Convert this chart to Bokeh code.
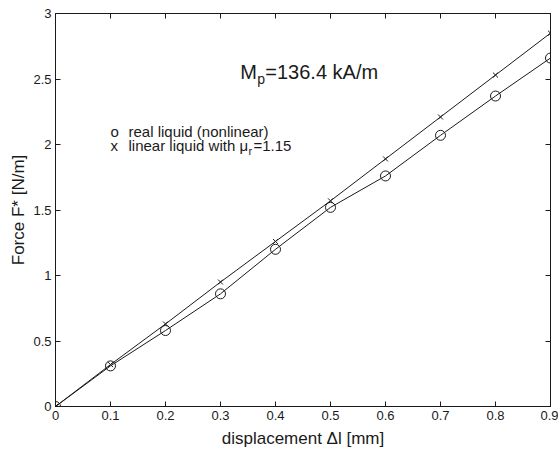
from bokeh.plotting import figure
from bokeh.models import LinearAxis, FixedTicker, Range1d, CustomJSTickFormatter
from bokeh.core.properties import value
from bokeh.embed import file_html
from bokeh.resources import INLINE

displacement = [0.0, 0.1, 0.2, 0.3, 0.4, 0.5, 0.6, 0.7, 0.8, 0.9]
force_real = [0.0, 0.31, 0.58, 0.86, 1.20, 1.52, 1.76, 2.07, 2.37, 2.66]
force_linear = [0.0, 0.32, 0.63, 0.95, 1.26, 1.57, 1.89, 2.21, 2.53, 2.85]
x_ticks = [0, 0.1, 0.2, 0.3, 0.4, 0.5, 0.6, 0.7, 0.8, 0.9]
y_ticks = [0, 0.5, 1, 1.5, 2, 2.5, 3]
legend_labels = ["real liquid (nonlinear)", "linear liquid with \u03bc"]
title_parts = ["M", "p", "=136.4 kA/m"]

FONT = "Liberation Sans"
INK = "#1a1a1a"

p = figure(width=558, height=451, output_backend="svg", toolbar_location=None,
           x_range=Range1d(0, 0.9), y_range=Range1d(0, 3),
           min_border_left=55, min_border_right=8, min_border_top=13, min_border_bottom=45,
           x_axis_label="displacement \u0394l [mm]", y_axis_label="Force F* [N/m]")
p.grid.visible = False
p.outline_line_color = INK
p.background_fill_color = "white"
p.border_fill_color = "white"

for ax in (p.xaxis[0], p.yaxis[0]):
    ax.major_tick_in = 5
    ax.major_tick_out = 0
    ax.minor_tick_in = 0
    ax.minor_tick_out = 0
    ax.axis_line_color = INK
    ax.major_tick_line_color = INK
    ax.major_label_text_font = FONT
    ax.major_label_text_font_size = "13px"
    ax.major_label_text_color = INK
    ax.axis_label_text_font = FONT
    ax.axis_label_text_font_size = "17px"
    ax.axis_label_text_font_style = "normal"
    ax.axis_label_text_color = INK
    ax.major_label_standoff = 4
    ax.axis_label_standoff = 6
p.yaxis[0].axis_label_standoff = 2
p.xaxis[0].ticker = FixedTicker(ticks=x_ticks)
p.yaxis[0].ticker = FixedTicker(ticks=y_ticks)

for loc, ticks in (("above", x_ticks), ("right", y_ticks)):
    a = LinearAxis(ticker=FixedTicker(ticks=ticks), major_tick_in=5, major_tick_out=0,
                   minor_tick_in=0, minor_tick_out=0,
                   formatter=CustomJSTickFormatter(code="return ''"),
                   major_label_standoff=0, axis_line_color=INK, major_tick_line_color=INK)
    p.add_layout(a, loc)

p.line(displacement, force_real, line_color=INK, line_width=1)
p.scatter(displacement, force_real, marker="circle", size=10, fill_color=None,
          line_color=INK, line_width=1)
p.line(displacement, force_linear, line_color=INK, line_width=1)
p.scatter(displacement, force_linear, marker="x", size=7, line_color=INK, line_width=1)

# annotation: M_p = 136.4 kA/m
tx, ty = 0.336, 2.55
p.text([tx], [ty], text=[title_parts[0]], text_font=value(FONT), text_font_size="20px",
       text_color=INK, text_baseline="alphabetic")
p.text([tx], [ty], text=[title_parts[1]], text_font=value(FONT), text_font_size="14px",
       text_color=INK, text_baseline="alphabetic", x_offset=17, y_offset=7)
p.text([tx], [ty], text=[title_parts[2]], text_font=value(FONT), text_font_size="20px",
       text_color=INK, text_baseline="alphabetic", x_offset=25)

# legend text
lx, ly1, ly2 = 0.100, 2.10, 1.99
p.text([lx], [ly1], text=["o"], text_font=value(FONT), text_font_size="15px",
       text_color=INK, text_baseline="alphabetic")
p.text([lx], [ly1], text=[legend_labels[0]], text_font=value(FONT), text_font_size="15px",
       text_color=INK, text_baseline="alphabetic", x_offset=18)
p.text([lx], [ly2], text=["x"], text_font=value(FONT), text_font_size="15px",
       text_color=INK, text_baseline="alphabetic")
p.text([lx], [ly2], text=[legend_labels[1]], text_font=value(FONT), text_font_size="15px",
       text_color=INK, text_baseline="alphabetic", x_offset=18)
p.text([lx], [ly2], text=["r"], text_font=value(FONT), text_font_size="11px",
       text_color=INK, text_baseline="alphabetic", x_offset=138, y_offset=5)
p.text([lx], [ly2], text=["=1.15"], text_font=value(FONT), text_font_size="15px",
       text_color=INK, text_baseline="alphabetic", x_offset=143)

open("out.html", "w").write(file_html(p, INLINE))
